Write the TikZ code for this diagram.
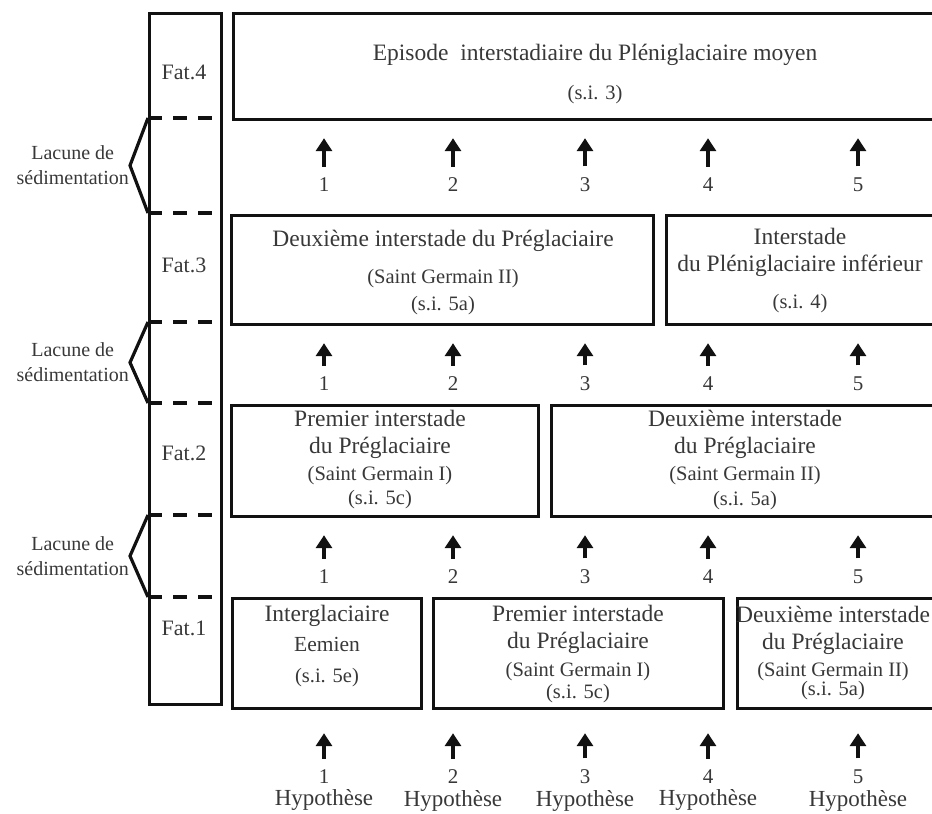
\documentclass[tikz,border=0pt]{standalone}
\usepackage{fontspec}
\setmainfont{Liberation Serif}
\usepackage{tikz}
\usetikzlibrary{positioning, arrows.meta}
\definecolor{cInk}  {HTML}{111111}
\definecolor{cText} {HTML}{383838}
\newcommand{\smtxt}{\fontsize{20.5}{27}\selectfont}
\newcommand{\midtxt}{\fontsize{21.5}{27}\selectfont}
\tikzset{
  stbox/.style={draw=cInk, line width=3.2pt, inner sep=0pt},
  boxtext/.style={text=cText, align=center, font=\fontsize{23.5}{27}\selectfont},
  fatlab/.style={text=cText, font=\fontsize{22}{25}\selectfont},
  lactext/.style={text=cText, align=center, inner sep=1pt, font=\fontsize{20}{25}\selectfont},
  hypnum/.style={text=cText, font=\fontsize{21}{25}\selectfont},
  hyplab/.style={text=cText, font=\fontsize{23}{27}\selectfont},
  uparrow/.style={cInk, line width=4.2pt, -{Triangle[length=13pt,width=16pt]}},
  rule/.style={cInk, line width=3.2pt},
  gapline/.style={cInk, line width=3.2pt, dash pattern=on 14pt off 11pt},
}

\begin{document}
\begin{tikzpicture}[x=1pt, y=-1pt]
  \clip (0,0) rectangle (932,814);
  % stratigraphic column (Fat.1 to Fat.4)
  \node[stbox, minimum width=72pt, minimum height=691pt, anchor=north west] (fatcol) at (148,12) {};
  \foreach \k/\y in {4/72, 3/265, 2/453, 1/628}
    \node[fatlab] (fat\k) at (184,\y) {Fat.\k};
  % gaps in the sequence
  \foreach \i/\ya/\yb in {1/515/597, 2/322/403, 3/118/213}{
    \draw[gapline] (148,\ya) -- (220,\ya);
    \draw[gapline] (148,\yb) -- (220,\yb);
    \coordinate (ap\i) at (130,{(\ya+\yb)/2});
    \draw[rule, line join=miter] (148,\ya) -- (ap\i) -- (148,\yb);
    \node[lactext, anchor=east] (lac\i) at (ap\i) {Lacune de\\sédimentation};
  }
  % period boxes, right side runs off the page
  \foreach \nm/\xa/\ya/\xb/\yb in
    {box4/232/12/990/118,
     box3a/230/214/652/323, box3b/665/214/990/323,
     box2a/230/404/537/515, box2b/550/404/990/515,
     box1a/231/597/420/707, box1b/432/597/722/707, box1c/736/597/990/707}
    \node[stbox, anchor=north west, minimum width={(\xb-\xa)*1pt},
          minimum height={(\yb-\ya)*1pt}] (\nm) at (\xa,\ya) {};
  % texts of the boxes
  \node[boxtext] (t4) at (595,74.5)
    {Episode~ interstadiaire du Pléniglaciaire moyen\\[12pt]{\smtxt (s.i. 3)}};
  \node[boxtext] (t3a) at (443,272.5)
    {Deuxième interstade du Préglaciaire\\[10pt]{\smtxt (Saint Germain II)}\\{\smtxt (s.i. 5a)}};
  \node[boxtext] (t3b) at (800,270.5)
    {Interstade\\du Pléniglaciaire inférieur\\[10pt]{\smtxt (s.i. 4)}};
  \node[boxtext] (t2a) at (380,459.5)
    {Premier interstade\\du Préglaciaire\\{\smtxt (Saint Germain I)}\\[-3pt]{\smtxt (s.i. 5c)}};
  \node[boxtext] (t2b) at (745,460.5)
    {Deuxième interstade\\du Préglaciaire\\{\smtxt (Saint Germain II)}\\[-2pt]{\smtxt (s.i. 5a)}};
  \node[boxtext] (t1a) at (327,646)
    {Interglaciaire\\[3pt]{\midtxt Eemien}\\[4pt]{\smtxt (s.i. 5e)}};
  \node[boxtext] (t1b) at (578,654.5)
    {Premier interstade\\du Préglaciaire\\[1pt]{\smtxt (Saint Germain I)}\\[-5pt]{\smtxt (s.i. 5c)}};
  \node[boxtext] (t1c) at (833,653)
    {Deuxième interstade\\du Préglaciaire\\{\smtxt (Saint Germain II)}\\[-8pt]{\smtxt (s.i. 5a)}};
  % hypotheses 1-5, arrows up to the box above
  \foreach \r/\yn/\up/\tip in {a/185/box4/17, b/384/box3a/17, c/577/box2a/17, d/777/box1a/23}{
    \foreach \k/\x in {1/324, 2/453, 3/585, 4/708, 5/858}{
      \node[hypnum] (n\r\k) at (\x,\yn) {\k};
      \draw[uparrow, shorten <=8pt, shorten >=\tip pt] (n\r\k.north) -- (n\r\k.north |- \up.south);
    }
  }
  \foreach \k in {1,...,5}
    \node[hyplab, below=-1pt of nd\k] (hy\k) {Hypothèse};
\end{tikzpicture}
\end{document}
